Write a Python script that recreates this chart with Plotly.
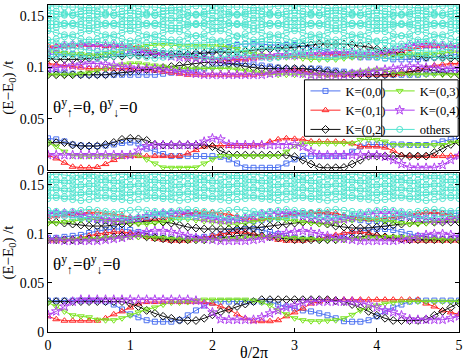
import plotly.graph_objects as go
from plotly.subplots import make_subplots

# theta / 2pi grid
theta = [0.0, 0.1, 0.2, 0.3, 0.4, 0.5, 0.6, 0.7, 0.8, 0.9,
         1.0, 1.1, 1.2, 1.3, 1.4, 1.5, 1.6, 1.7, 1.8, 1.9,
         2.0, 2.1, 2.2, 2.3, 2.4, 2.5, 2.6, 2.7, 2.8, 2.9,
         3.0, 3.1, 3.2, 3.3, 3.4, 3.5, 3.6, 3.7, 3.8, 3.9,
         4.0, 4.1, 4.2, 4.3, 4.4, 4.5, 4.6, 4.7, 4.8, 4.9, 5.0]

# all energies below in units of 1e-3 t
# ---- top panel: theta_up = theta, theta_dn = 0 ----
top_k00 = [31, 30, 28, 25, 24, 23.5, 23.5, 24, 25, 26.5,
           27, 26, 21, 18, 15.7, 13.7, 13.7, 13.7, 13.7, 13.7,
           13.7, 13, 10.5, 6.5, 2.6, 2.3, 2.3, 2.3, 2.6, 6.5,
           10.5, 13.7, 13.7, 13.7, 13.7, 13.7, 13.7, 18, 23, 25,
           25, 25, 25, 25, 24.5, 24.5, 24.5, 26, 28, 30, 31]
top_k01 = [14.7, 11.4, 7.2, 3.3, 2.5, 2.3, 3.0, 5.9, 9.8, 13,
           13.7, 13.7, 13.7, 13.7, 13.7, 13.7, 13.7, 16.3, 19.5, 22.9,
           24, 24, 23.5, 23.5, 23.5, 24, 25, 27.8, 30, 31,
           30.5, 30, 28, 27.8, 27.8, 27.8, 27.5, 26, 23, 23,
           23, 22, 19, 14.7, 13.7, 13.7, 13.7, 13.7, 13.7, 14, 14.5]
top_k02 = [26.8, 26.8, 26.8, 24.5, 23.5, 23.5, 23.5, 25, 27, 30,
           31, 30.5, 29, 25, 24.5, 24.5, 24.5, 24.5, 24.5, 24.5,
           22.9, 19, 15, 14.7, 14.7, 14.7, 14.7, 14.7, 14.7, 14.7,
           13.1, 9.8, 5.9, 2.6, 2.3, 2.3, 2.6, 5.9, 9.8, 13.7,
           13.7, 13.7, 13.7, 13.7, 13.7, 13.7, 13.7, 17, 21, 25, 27.5]
top_k03 = [26.8, 23, 18, 14, 13.7, 13.7, 13.7, 13.7, 13.7, 13.7,
           14.7, 14.7, 10.5, 6.5, 2.6, 2.3, 2.3, 2.3, 2.6, 6.5,
           10.5, 13.7, 13.7, 13.7, 13.7, 13.7, 13.7, 13.7, 13.7, 18,
           23.5, 26, 26.1, 26.1, 26.1, 26.1, 26.1, 26.1, 29.5, 30,
           29.5, 27.8, 24.5, 24.5, 24.5, 24.5, 24.5, 24.5, 24.5, 26.8, 27.5]
top_k04 = [14.7, 14.7, 14.7, 14.7, 14.7, 14.7, 14.7, 14.7, 14.7, 14.7,
           14.7, 19, 23.5, 24.5, 24.5, 24.5, 24.5, 24.5, 24.5, 27.8,
           31, 30, 25, 24.5, 24.5, 24.5, 24.5, 24.5, 24.5, 24.5,
           25, 22.9, 18, 14.7, 14.7, 14.7, 14.7, 14.7, 14.7, 14.7,
           14.7, 13.1, 9.8, 5.9, 2.6, 2.3, 2.3, 2.3, 5, 10, 14]

top_k00_b = [113, 113, 113, 113, 112, 112, 112, 113, 113, 113,
             114, 115, 115, 115, 114, 113, 113, 113, 113, 114,
             116, 118, 120, 122, 123, 123, 123, 122, 122, 122,
             122, 121, 120, 118, 115, 113, 112, 111, 110, 110,
             110, 109, 108, 108, 108, 108, 109, 110, 111, 112, 113]
top_k00_c = [97, 96, 95, 94, 93, 93, 93, 93, 93, 93,
             93, 93, 93, 93, 94, 95, 96, 97, 98, 99,
             101, 102, 103, 104, 104, 103, 102, 101, 100, 99,
             99, 99, 99, 99, 98, 97, 96, 95, 94, 93,
             93, 93, 93, 93, 93, 93, 94, 95, 96, 97, 97]
top_k01_b = [121, 121, 121, 121, 122, 122, 122, 121, 121, 121,
             121, 120, 118, 115, 113, 112, 111, 110, 110, 110,
             109, 108, 108, 108, 108, 109, 110, 110, 111, 111,
             112, 112, 112, 113, 113, 113, 113, 112, 112, 112,
             112, 113, 114, 116, 118, 120, 121, 121, 121, 121, 121]
top_k01_c = [104, 103, 102, 101, 100, 99, 99, 99, 99, 99,
             99, 99, 98, 97, 96, 95, 94, 93, 93, 93,
             93, 93, 93, 93, 93, 93, 94, 95, 96, 97,
             98, 97, 95, 94, 93, 93, 93, 93, 93, 93,
             93, 93, 93, 94, 96, 98, 100, 102, 103, 104, 104]
top_k02_b = [109, 108, 108, 108, 108, 109, 110, 110, 111, 111,
             112, 112, 112, 113, 113, 113, 113, 113, 114, 114,
             115, 115, 115, 115, 116, 117, 118, 118, 119, 119,
             120, 121, 122, 123, 123, 123, 123, 122, 121, 120,
             118, 116, 114, 113, 112, 111, 110, 110, 110, 109, 109]
top_k02_c = [93, 93, 93, 93, 93, 93, 93, 93, 94, 95,
             96, 97, 98, 99, 100, 101, 102, 103, 104, 105,
             105, 105, 104, 103, 101, 100, 99, 99, 99, 99,
             99, 99, 98, 97, 96, 95, 94, 93, 93, 93,
             93, 93, 94, 95, 96, 97, 98, 97, 95, 94, 93]
top_k03_b = [115, 115, 114, 113, 113, 112, 112, 113, 114, 116,
             118, 120, 121, 122, 122, 122, 121, 121, 121, 121,
             121, 121, 120, 118, 115, 113, 112, 111, 110, 110,
             110, 109, 108, 108, 108, 108, 109, 110, 110, 111,
             111, 112, 112, 112, 113, 113, 113, 113, 114, 115, 115]
top_k03_c = [93, 93, 93, 93, 94, 95, 97, 99, 101, 103,
             104, 104, 103, 102, 101, 100, 99, 99, 99, 99,
             99, 99, 99, 98, 97, 96, 95, 94, 93, 93,
             93, 93, 93, 93, 93, 93, 94, 95, 96, 97,
             98, 97, 95, 94, 93, 93, 93, 93, 93, 93, 93]
top_k04_b = [117, 119, 121, 122, 122, 121, 121, 121, 121, 120,
             118, 116, 114, 113, 112, 111, 110, 110, 109, 109,
             108, 108, 108, 109, 110, 110, 111, 111, 112, 112,
             112, 113, 113, 113, 113, 114, 114, 114, 113, 113,
             113, 114, 116, 119, 121, 122, 122, 122, 121, 120, 119]
top_k04_c = [99, 100, 101, 102, 103, 104, 104, 103, 102, 101,
             100, 99, 99, 99, 98, 97, 96, 95, 94, 93,
             93, 93, 93, 93, 93, 93, 93, 94, 95, 96,
             95, 94, 93, 93, 93, 93, 93, 94, 95, 96,
             97, 98, 99, 100, 101, 101, 100, 100, 99, 99, 99]

top_oth1 = [160, 160, 159, 159, 159, 158, 159, 159, 159, 160,
            160, 160, 159, 159, 158, 158, 159, 159, 160, 160,
            160, 160, 159, 159, 159, 158, 159, 159, 160, 160,
            160, 160, 159, 159, 158, 158, 159, 159, 159, 160,
            160, 160, 159, 159, 159, 158, 159, 159, 160, 160, 160]
top_oth2 = [156, 155, 153, 151, 149, 148, 149, 151, 153, 155,
            156, 155, 153, 151, 149, 148, 148, 150, 152, 154,
            156, 156, 154, 152, 150, 148, 149, 151, 153, 155,
            156, 155, 153, 151, 149, 148, 149, 151, 153, 155,
            156, 155, 154, 152, 150, 148, 149, 151, 153, 155, 156]
top_oth3 = [148, 149, 151, 153, 155, 156, 155, 153, 151, 149,
            148, 149, 151, 153, 155, 156, 156, 154, 152, 150,
            148, 148, 150, 152, 154, 156, 155, 153, 151, 149,
            148, 149, 151, 153, 155, 156, 155, 153, 151, 149,
            148, 149, 150, 152, 154, 156, 155, 153, 151, 149, 148]
top_oth4 = [146, 145, 143, 141, 139, 138, 139, 141, 143, 145,
            146, 145, 143, 141, 139, 138, 138, 140, 142, 144,
            146, 146, 144, 142, 140, 138, 139, 141, 143, 145,
            146, 145, 143, 141, 139, 138, 139, 141, 143, 145,
            146, 145, 144, 142, 140, 138, 139, 141, 143, 145, 146]
top_oth5 = [138, 139, 141, 143, 145, 146, 145, 143, 141, 139,
            138, 139, 141, 143, 145, 146, 146, 144, 142, 140,
            138, 138, 140, 142, 144, 146, 145, 143, 141, 139,
            138, 139, 141, 143, 145, 146, 145, 143, 141, 139,
            138, 139, 140, 142, 144, 146, 145, 143, 141, 139, 138]
top_oth6 = [136, 134, 132, 130, 128, 127, 128, 130, 132, 134,
            136, 134, 132, 130, 128, 127, 127, 129, 131, 133,
            135, 136, 134, 131, 129, 127, 128, 130, 132, 134,
            136, 134, 132, 130, 128, 127, 128, 130, 132, 134,
            136, 135, 133, 131, 129, 127, 128, 130, 132, 134, 136]
top_oth7 = [127, 128, 130, 132, 134, 136, 134, 132, 130, 128,
            126, 128, 130, 132, 134, 136, 135, 133, 131, 129,
            127, 126, 128, 130, 133, 135, 134, 132, 130, 128,
            126, 128, 130, 132, 134, 136, 134, 132, 130, 128,
            126, 127, 129, 131, 133, 135, 134, 132, 130, 128, 127]
top_oth8 = [153, 152, 152, 151, 152, 153, 152, 152, 151, 152,
            153, 152, 152, 151, 152, 153, 152, 151, 151, 152,
            153, 152, 152, 151, 152, 153, 152, 152, 151, 152,
            153, 152, 152, 151, 152, 153, 152, 152, 151, 152,
            153, 152, 151, 151, 152, 153, 152, 152, 151, 152, 153]
top_oth9 = [142, 142, 143, 143, 142, 141, 142, 143, 143, 142,
            142, 142, 143, 143, 142, 141, 141, 142, 143, 143,
            142, 142, 143, 143, 142, 141, 142, 143, 143, 142,
            142, 142, 143, 143, 142, 141, 142, 143, 143, 142,
            142, 142, 142, 143, 142, 141, 142, 143, 143, 142, 142]
top_oth10 = [124, 124, 123, 123, 124, 125, 125, 124, 124, 123,
             123, 124, 124, 125, 125, 124, 123, 123, 124, 124,
             125, 125, 124, 123, 123, 124, 125, 125, 124, 123,
             123, 124, 125, 125, 124, 123, 123, 124, 124, 125,
             125, 124, 123, 123, 124, 125, 125, 124, 123, 123, 124]
top_oth11 = [117, 118, 119, 119, 118, 117, 116, 116, 117, 118,
             119, 119, 118, 117, 116, 116, 117, 118, 119, 119,
             118, 117, 116, 116, 117, 118, 119, 119, 118, 117,
             116, 116, 117, 118, 119, 119, 118, 117, 116, 116,
             117, 118, 119, 119, 118, 117, 116, 116, 117, 118, 119]
top_oth12 = [110, 111, 112, 112, 111, 110, 109, 110, 111, 112,
             112, 111, 110, 109, 110, 111, 112, 112, 111, 110,
             109, 110, 111, 112, 112, 111, 110, 109, 110, 111,
             112, 112, 111, 110, 109, 110, 111, 112, 112, 111,
             110, 109, 110, 111, 112, 112, 111, 110, 109, 110, 110]

# ---- bottom panel: theta_up = theta_dn = theta ----
bot_k00 = [32, 32, 32, 32, 32, 32, 32, 31, 28, 23,
           18, 15, 12, 10.5, 10.5, 10.5, 12, 17, 22, 27,
           30, 31, 31, 31, 31, 31, 31, 31, 28, 26,
           24, 22, 21, 19, 17, 14, 11, 10.5, 10.5, 12,
           16, 21, 25, 28, 31, 32, 32, 32, 32, 32, 32]
bot_k01 = [16, 13, 11.5, 11.5, 11.5, 11.5, 11.5, 14, 18, 21,
           25, 29, 30.5, 30.5, 30.5, 30.5, 30.5, 30.5, 30.5, 30.5,
           29, 26, 23, 18, 14, 11, 11, 11, 12, 16,
           20, 24, 29, 31, 33, 33, 33, 33, 33, 33,
           33, 33, 33, 33, 33, 33, 29, 26, 22, 20, 18]
bot_k02 = [31, 31, 31, 31, 31, 31, 31, 31, 31, 31,
           29, 26, 22, 19, 16, 14, 12, 11.7, 11.7, 14,
           17.5, 20.5, 23, 26, 28.5, 31, 33, 33, 33, 33,
           33, 33, 33, 33, 33, 32, 31, 28, 25, 21,
           17, 14, 11.7, 11.7, 11.7, 11.7, 13, 17, 21, 25, 29.5]
bot_k03 = [30, 26, 21, 17, 16, 15, 12.5, 12, 12, 14,
           17, 20, 23, 25, 28, 30, 30, 30.5, 32, 33,
           33, 33, 33, 33, 33, 32, 30, 27, 22, 18,
           14, 12, 11, 11, 11.5, 12, 14, 17.5, 22, 25,
           27, 29, 30, 31, 31, 31, 31, 31, 31, 31, 31]
bot_k04 = [17.5, 21, 26, 31, 33, 33, 33, 33, 33, 33,
           33, 33, 33, 33, 33, 33, 33, 33, 32, 28,
           20, 13, 12.5, 12.5, 12.5, 12.5, 15, 19, 22, 25,
           27, 30, 31, 31, 31, 31, 31, 31, 30, 28,
           25, 22, 20, 17, 13, 12.5, 12.5, 12.5, 12.5, 14, 16]

bot_k00_b = [121, 121, 120, 119, 117, 115, 114, 113, 113, 113,
             114, 115, 117, 119, 120, 121, 121, 121, 121, 120,
             119, 117, 115, 114, 113, 113, 114, 115, 117, 119,
             120, 121, 121, 121, 120, 119, 117, 115, 114, 113,
             113, 113, 114, 116, 118, 120, 121, 121, 121, 121, 121]
bot_k00_c = [96, 96, 97, 98, 99, 101, 103, 104, 105, 105,
             104, 102, 100, 98, 96, 95, 95, 95, 96, 97,
             98, 100, 102, 104, 105, 105, 104, 102, 100, 98,
             96, 95, 95, 95, 96, 97, 99, 101, 103, 104,
             105, 105, 104, 102, 100, 98, 97, 96, 95, 95, 96]
bot_k01_b = [117, 118, 119, 120, 121, 122, 122, 121, 120, 119,
             117, 116, 115, 115, 116, 117, 119, 121, 122, 122,
             122, 121, 120, 118, 116, 115, 115, 116, 117, 119,
             120, 121, 122, 122, 122, 121, 119, 117, 116, 115,
             115, 116, 117, 118, 120, 121, 122, 122, 121, 119, 117]
bot_k01_c = [93, 93, 94, 95, 96, 98, 100, 101, 102, 102,
             101, 99, 97, 95, 94, 93, 93, 93, 94, 96,
             98, 100, 101, 102, 102, 100, 98, 96, 94, 93,
             93, 93, 94, 95, 97, 99, 101, 102, 102, 101,
             99, 97, 95, 94, 93, 93, 93, 93, 93, 93, 93]
bot_k02_b = [112, 112, 111, 110, 109, 108, 108, 108, 109, 110,
             111, 112, 113, 113, 112, 111, 109, 107, 106, 105,
             105, 105, 105, 105, 106, 106, 107, 108, 109, 110,
             111, 112, 112, 111, 110, 108, 107, 106, 106, 106,
             107, 108, 109, 110, 111, 112, 112, 112, 112, 112, 112]
bot_k02_c = [94, 94, 94, 94, 94, 95, 95, 96, 97, 98,
             98, 98, 97, 96, 95, 94, 94, 94, 94, 94,
             95, 96, 97, 98, 99, 99, 98, 97, 96, 95,
             94, 94, 94, 94, 94, 94, 95, 96, 97, 98,
             98, 97, 96, 95, 94, 94, 94, 94, 94, 94, 94]
bot_k03_b = [111, 111, 112, 113, 114, 115, 115, 114, 113, 112,
             111, 110, 110, 111, 112, 114, 115, 115, 114, 113,
             112, 111, 110, 110, 111, 112, 114, 115, 115, 114,
             113, 112, 111, 110, 110, 111, 113, 114, 115, 115,
             114, 113, 112, 111, 110, 110, 111, 112, 113, 114, 114]
bot_k03_c = [94, 94, 94, 94, 95, 95, 95, 96, 96, 96,
             97, 97, 97, 96, 96, 95, 95, 94, 94, 94,
             94, 94, 95, 95, 96, 96, 97, 97, 97, 96,
             96, 95, 95, 94, 94, 94, 94, 95, 95, 96,
             96, 97, 97, 97, 96, 96, 95, 95, 94, 94, 94]
bot_k04_b = [120, 121, 121, 121, 120, 118, 116, 115, 114, 114,
             115, 116, 118, 120, 121, 121, 121, 120, 118, 116,
             115, 114, 114, 115, 116, 118, 120, 121, 121, 121,
             120, 118, 116, 115, 114, 114, 115, 117, 119, 120,
             121, 121, 121, 120, 118, 116, 115, 114, 114, 115, 117]
bot_k04_c = [94, 94, 93, 93, 93, 93, 93, 94, 95, 96,
             98, 100, 102, 103, 103, 102, 100, 98, 96, 95,
             94, 93, 93, 93, 93, 94, 95, 97, 99, 101,
             102, 103, 102, 100, 98, 96, 95, 94, 93, 93,
             93, 93, 93, 94, 95, 97, 99, 100, 100, 99, 97]

bot_oth1 = [160, 161, 160, 159, 160, 161, 160, 159, 160, 161,
            160, 159, 160, 161, 160, 159, 160, 161, 160, 159,
            160, 161, 160, 159, 160, 161, 160, 159, 160, 161,
            160, 159, 160, 161, 160, 159, 160, 161, 160, 159,
            160, 161, 160, 159, 160, 161, 160, 159, 160, 161, 160]
bot_oth2 = [156, 155, 154, 155, 156, 157, 156, 155, 154, 155,
            156, 157, 156, 155, 154, 155, 156, 157, 156, 155,
            154, 155, 156, 157, 156, 155, 154, 155, 156, 157,
            156, 155, 154, 155, 156, 157, 156, 155, 154, 155,
            156, 157, 156, 155, 154, 155, 156, 157, 156, 155, 156]
bot_oth3 = [152, 153, 152, 151, 150, 151, 152, 153, 152, 151,
            150, 151, 152, 153, 152, 151, 150, 151, 152, 153,
            152, 151, 150, 151, 152, 153, 152, 151, 150, 151,
            152, 153, 152, 151, 150, 151, 152, 153, 152, 151,
            150, 151, 152, 153, 152, 151, 150, 151, 152, 153, 152]
bot_oth4 = [148, 147, 146, 147, 148, 149, 148, 147, 146, 147,
            148, 149, 148, 147, 146, 147, 148, 149, 148, 147,
            146, 147, 148, 149, 148, 147, 146, 147, 148, 149,
            148, 147, 146, 147, 148, 149, 148, 147, 146, 147,
            148, 149, 148, 147, 146, 147, 148, 149, 148, 147, 148]
bot_oth5 = [144, 145, 144, 143, 142, 143, 144, 145, 144, 143,
            142, 143, 144, 145, 144, 143, 142, 143, 144, 145,
            144, 143, 142, 143, 144, 145, 144, 143, 142, 143,
            144, 145, 144, 143, 142, 143, 144, 145, 144, 143,
            142, 143, 144, 145, 144, 143, 142, 143, 144, 145, 144]
bot_oth6 = [140, 139, 138, 139, 140, 141, 140, 139, 138, 139,
            140, 141, 140, 139, 138, 139, 140, 141, 140, 139,
            138, 139, 140, 141, 140, 139, 138, 139, 140, 141,
            140, 139, 138, 139, 140, 141, 140, 139, 138, 139,
            140, 141, 140, 139, 138, 139, 140, 141, 140, 139, 140]
bot_oth7 = [136, 137, 136, 135, 134, 135, 136, 137, 136, 135,
            134, 135, 136, 137, 136, 135, 134, 135, 136, 137,
            136, 135, 134, 135, 136, 137, 136, 135, 134, 135,
            136, 137, 136, 135, 134, 135, 136, 137, 136, 135,
            134, 135, 136, 137, 136, 135, 134, 135, 136, 137, 136]
bot_oth8 = [124, 123, 122, 123, 124, 125, 124, 123, 122, 123,
            124, 125, 124, 123, 122, 123, 124, 125, 124, 123,
            122, 123, 124, 125, 124, 123, 122, 123, 124, 125,
            124, 123, 122, 123, 124, 125, 124, 123, 122, 123,
            124, 125, 124, 123, 122, 123, 124, 125, 124, 123, 124]
bot_oth9 = [118, 119, 118, 117, 116, 117, 118, 119, 118, 117,
            116, 117, 118, 119, 118, 117, 116, 117, 118, 119,
            118, 117, 116, 117, 118, 119, 118, 117, 116, 117,
            118, 119, 118, 117, 116, 117, 118, 119, 118, 117,
            116, 117, 118, 119, 118, 117, 116, 117, 118, 119, 118]

k_labels = ["K=(0,0)", "K=(0,1)", "K=(0,2)", "K=(0,3)", "K=(0,4)", "others"]
k_colors = ["#4d72f0", "#ff2626", "#111111", "#79e41c", "#b040f0", "#52e4d0"]
k_symbols = ["square-open", "triangle-up-open", "diamond-open",
             "triangle-down-open", "star-open", "circle-open"]
k_sizes = [5, 6, 6, 6, 7, 6]

top_low = [top_k00, top_k01, top_k02, top_k03, top_k04]
top_band = [[top_k00_b, top_k00_c], [top_k01_b, top_k01_c], [top_k02_b, top_k02_c],
            [top_k03_b, top_k03_c], [top_k04_b, top_k04_c]]
top_others = [top_oth1, top_oth2, top_oth3, top_oth4, top_oth5, top_oth6,
              top_oth7, top_oth8, top_oth9, top_oth10, top_oth11, top_oth12]
bot_low = [bot_k00, bot_k01, bot_k02, bot_k03, bot_k04]
bot_band = [[bot_k00_b, bot_k00_c], [bot_k01_b, bot_k01_c], [bot_k02_b, bot_k02_c],
            [bot_k03_b, bot_k03_c], [bot_k04_b, bot_k04_c]]
bot_others = [bot_oth1, bot_oth2, bot_oth3, bot_oth4, bot_oth5, bot_oth6,
              bot_oth7, bot_oth8, bot_oth9]

fig = make_subplots(rows=2, cols=1, vertical_spacing=0.01)


def add_curve(row, vals, i, show=False):
    fig.add_trace(go.Scatter(
        x=theta, y=[v / 1000 for v in vals], mode="lines+markers",
        name=k_labels[i], showlegend=show, legendrank=i + 1,
        legend="legend" if i < 3 else "legend2",
        line=dict(color=k_colors[i], width=1),
        marker=dict(symbol=k_symbols[i], size=k_sizes[i], color=k_colors[i],
                    line=dict(width=1, color=k_colors[i])),
    ), row=row, col=1)


for row, band, others, low in [(1, top_band, top_others, top_low),
                               (2, bot_band, bot_others, bot_low)]:
    for i in range(5):
        for vals in band[i]:
            add_curve(row, vals, i)
    for j, vals in enumerate(others):
        add_curve(row, vals, 5, show=(row == 1 and j == 0))
    for i in range(5):
        add_curve(row, low[i], i, show=(row == 1))

serif = "Liberation Serif"
axis_style = dict(showline=True, linecolor="black", linewidth=1, mirror="ticks",
                  ticks="inside", ticklen=4, tickcolor="black", showgrid=False,
                  zeroline=False, automargin=False,
                  tickfont=dict(family=serif, size=14, color="black"))

fig.update_xaxes(range=[0, 5], tickvals=[0, 1, 2, 3, 4, 5], **axis_style)
fig.update_xaxes(showticklabels=False, row=1, col=1)
fig.update_yaxes(tickvals=[0, 0.05, 0.1, 0.15], ticktext=["0", "0.05", "0.1", "0.15"],
                 title=dict(text="(E\u2212E<sub>0</sub>) /t", standoff=2,
                            font=dict(family=serif, size=15, color="black")),
                 **axis_style)
fig.update_yaxes(range=[0, 0.161], domain=[0.495, 1.0], row=1, col=1)
fig.update_yaxes(range=[0, 0.162], domain=[0.0, 0.486], row=2, col=1)

# legend box with divider
fig.add_shape(type="rect", xref="x", yref="y", x0=3.12, x1=4.99, y0=0.033, y1=0.088,
              fillcolor="white", line=dict(color="black", width=1), layer="above")
fig.add_shape(type="line", xref="x", yref="y", x0=4.06, x1=4.06, y0=0.033, y1=0.088,
              line=dict(color="black", width=1), layer="above")

legend_style = dict(bgcolor="rgba(0,0,0,0)", borderwidth=0, xanchor="left", yanchor="top",
                    font=dict(family=serif, size=12.5, color="black"), itemwidth=30)
fig.update_layout(
    legend=dict(x=0.6265, y=0.782, **legend_style),
    legend2=dict(x=0.807, y=0.782, **legend_style),
)

fig.add_annotation(x=0.04, y=0.061, xref="x", yref="y", xanchor="left", showarrow=False,
                   text="\u03b8<sup>y</sup><sub>\u2191</sub>=\u03b8, \u03b8<sup>y</sup><sub>\u2193</sub>=0",
                   font=dict(family=serif, size=17, color="black"))
fig.add_annotation(x=0.04, y=0.069, xref="x2", yref="y2", xanchor="left", showarrow=False,
                   text="\u03b8<sup>y</sup><sub>\u2191</sub>=\u03b8<sup>y</sup><sub>\u2193</sub>=\u03b8",
                   font=dict(family=serif, size=17, color="black"))
fig.add_annotation(x=0.5, y=-0.064, xref="paper", yref="paper", showarrow=False,
                   xanchor="center", yanchor="middle",
                   text="\u03b8/2\u03c0", font=dict(family=serif, size=16, color="black"))

fig.update_layout(
    width=471, height=360, margin=dict(l=48, r=8, t=5, b=28),
    plot_bgcolor="white", paper_bgcolor="white",
    font=dict(family=serif, color="black"),
)

# drop the default page margin so the figure sits at the window corner
fig.write_html("out.html", config={"displayModeBar": False},
               post_script="document.body.style.margin='0';")
